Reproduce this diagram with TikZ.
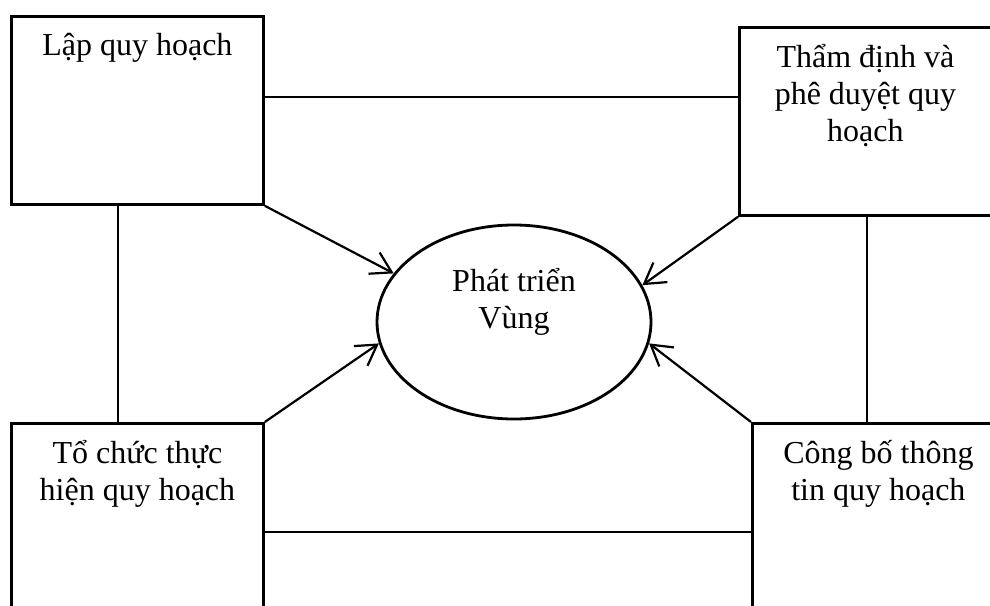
\documentclass[tikz,border=0pt]{standalone}
\usepackage{fontspec}
\setmainfont{Liberation Serif}
\usetikzlibrary{arrows.meta,shapes}

\begin{document}
\begin{tikzpicture}[x=0.5pt,y=-0.5pt,>={Straight Barb[length=10pt,width=12pt]},
  font=\fontsize{16}{18.5}\selectfont]

  \tikzstyle{step box}=[rectangle,draw=black,line width=1.4pt,minimum width=126pt,minimum height=94pt,anchor=north west]
  \tikzstyle{box text}=[anchor=north,align=center,inner sep=0pt,yshift=-9pt]
  \tikzstyle{link}=[line width=1.1pt]

  \useasboundingbox (0,0) rectangle (990,605);
  \clip (0,0) rectangle (990,605);

  \node[step box, label={[box text]north:Lập quy hoạch}]                    (lap)    at (10,15)   {};
  \node[step box, label={[box text]north:Thẩm định và\\phê duyệt quy\\hoạch}] (thamdinh) at (738,26) {};
  \node[step box, minimum height=100pt, label={[box text]north:Tổ chức thực\\hiện quy hoạch}] (tochuc) at (10,422) {};
  \node[step box, minimum height=100pt, label={[box text]north:Công bố thông\\tin quy hoạch}]  (congbo) at (751,422) {};

  \node[ellipse, draw=black, line width=1.4pt, minimum width=137pt, minimum height=97pt,
        label={[align=center, yshift=10pt]center:Phát triển\\Vùng}] (vung) at (514,322) {};

  % links between the boxes
  \draw[link] (lap.east |- 0,97) -- (thamdinh.west |- 0,97);
  \draw[link] (lap.south -| 118,0) -- (tochuc.north -| 118,0);
  \draw[link] (thamdinh.south -| 867,0) -- (congbo.north -| 867,0);
  \draw[link] (tochuc.east |- 0,532) -- (congbo.west |- 0,532);

  % arrows to the centre
  \draw[link,->] (lap.south east)     -- (vung.158);
  \draw[link,->] (tochuc.north east)  -- (vung.189);
  \draw[link,->] (thamdinh.south west) -- (vung.16);
  \draw[link,->] (congbo.north west)  -- (vung.351);

\end{tikzpicture}
\end{document}
